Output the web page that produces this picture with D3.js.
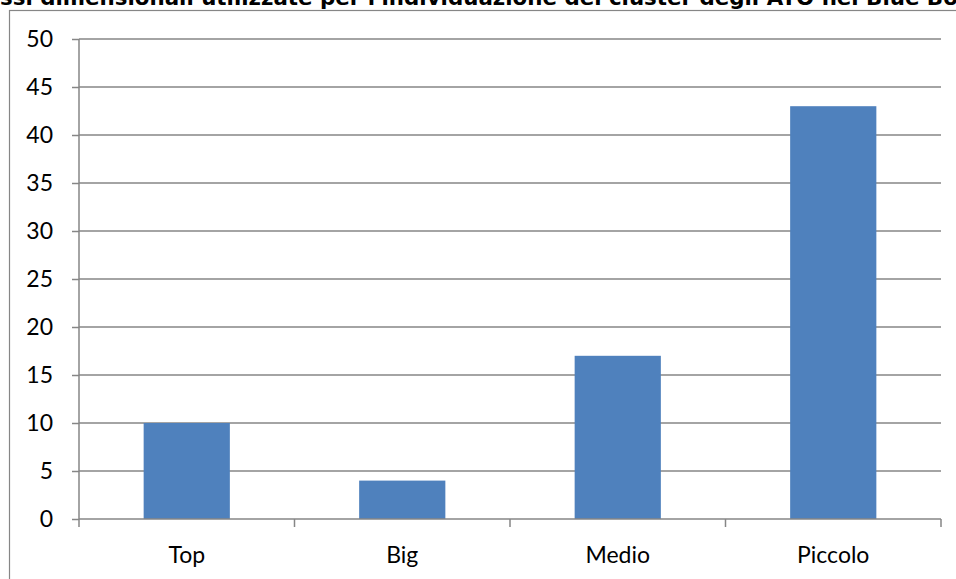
<!DOCTYPE html>
<html><head><meta charset="utf-8">
<script src="https://cdn.jsdelivr.net/npm/d3@7"></script>
<style>
html,body{margin:0;padding:0;background:#fff;overflow:hidden}
svg{display:block}
</style></head>
<body>
<svg id="c" width="956" height="579"></svg>
<script>
const title = "Classi dimensionali utilizzate per l'individuazione dei cluster degli ATO nel Blue Book";
const categories = ["Top", "Big", "Medio", "Piccolo"];
const values = [10, 4, 17, 43];
const yTicks = [0, 5, 10, 15, 20, 25, 30, 35, 40, 45, 50];

const svg = d3.select("#c");
const m = {left: 79, right: 941, top: 39, bottom: 519};
const grey = "#868686";
const labelFont = "Lato, 'Open Sans', sans-serif";

// chart border (extends beyond visible area)
svg.append("rect").attr("x", 9.5).attr("y", 10.5)
  .attr("width", 1000).attr("height", 1000)
  .attr("fill", "#fff").attr("stroke", grey).attr("stroke-width", 1.2);

const x = d3.scaleBand().domain(categories).range([m.left, m.right])
  .paddingInner(0.6).paddingOuter(0.3);
const xb = d3.scaleBand().domain(categories).range([m.left, m.right]);
const y = d3.scaleLinear().domain([0, 50]).range([m.bottom, m.top]);

// gridlines
svg.append("g").selectAll("line").data(yTicks.filter(d => d > 0)).join("line")
  .attr("x1", m.left).attr("x2", m.right)
  .attr("y1", d => y(d)).attr("y2", d => y(d))
  .attr("stroke", grey).attr("stroke-width", 1.5);

// bars
svg.append("g").selectAll("rect").data(values).join("rect")
  .attr("x", (d, i) => x(categories[i]))
  .attr("width", x.bandwidth())
  .attr("y", d => y(d))
  .attr("height", d => y(0) - y(d))
  .attr("fill", "#4F81BD");

// y axis
const yAxis = d3.axisLeft(y).tickValues(yTicks).tickSize(7).tickPadding(19);
const gy = svg.append("g").attr("transform", `translate(${m.left},0)`).call(yAxis);
gy.select(".domain").attr("stroke", grey).attr("stroke-width", 1.5).attr("d", `M0,${m.bottom}V${m.top}`);
gy.selectAll(".tick line").attr("stroke", grey).attr("stroke-width", 1.5);
gy.selectAll(".tick text").attr("font-family", labelFont)
  .attr("font-size", 23).attr("fill", "#000");

// x axis
const boundaries = [m.left].concat(categories.map(c => xb(c) + xb.bandwidth()));
const gx = svg.append("g").attr("transform", `translate(0,${m.bottom})`);
gx.append("line").attr("x1", m.left).attr("x2", m.right).attr("y1", 0).attr("y2", 0)
  .attr("stroke", grey).attr("stroke-width", 1.5);
gx.selectAll("line.tk").data(boundaries).join("line").attr("class", "tk")
  .attr("x1", d => d).attr("x2", d => d).attr("y1", 0).attr("y2", 8)
  .attr("stroke", grey).attr("stroke-width", 1.5);
gx.selectAll("text").data(categories).join("text")
  .attr("x", d => xb(d) + xb.bandwidth() / 2).attr("y", 44)
  .attr("text-anchor", "middle")
  .attr("font-family", labelFont).attr("font-size", 23)
  .attr("fill", "#000").text(d => d);

// title (overflows the window, as in the reference)
const t = svg.append("text").attr("y", 4.5)
  .attr("font-family", "'DejaVu Sans', Verdana, sans-serif")
  .attr("font-weight", "bold").attr("font-size", 20).attr("fill", "#000").text(title);
function measure(str, size) {
  const tmp = svg.append("text").attr("font-family", "'DejaVu Sans', Verdana, sans-serif")
    .attr("font-weight", "bold").attr("font-size", size).text(str);
  const w = tmp.node().getComputedTextLength(); tmp.remove(); return w;
}
const pre = title.slice(0, 3);
const upto = title.slice(0, title.length - 2);
const span = measure(upto, 20) - measure(pre, 20);
const fs = 20 * 958 / span;
t.attr("font-size", fs).attr("x", -measure(pre, fs));
</script>
</body></html>
